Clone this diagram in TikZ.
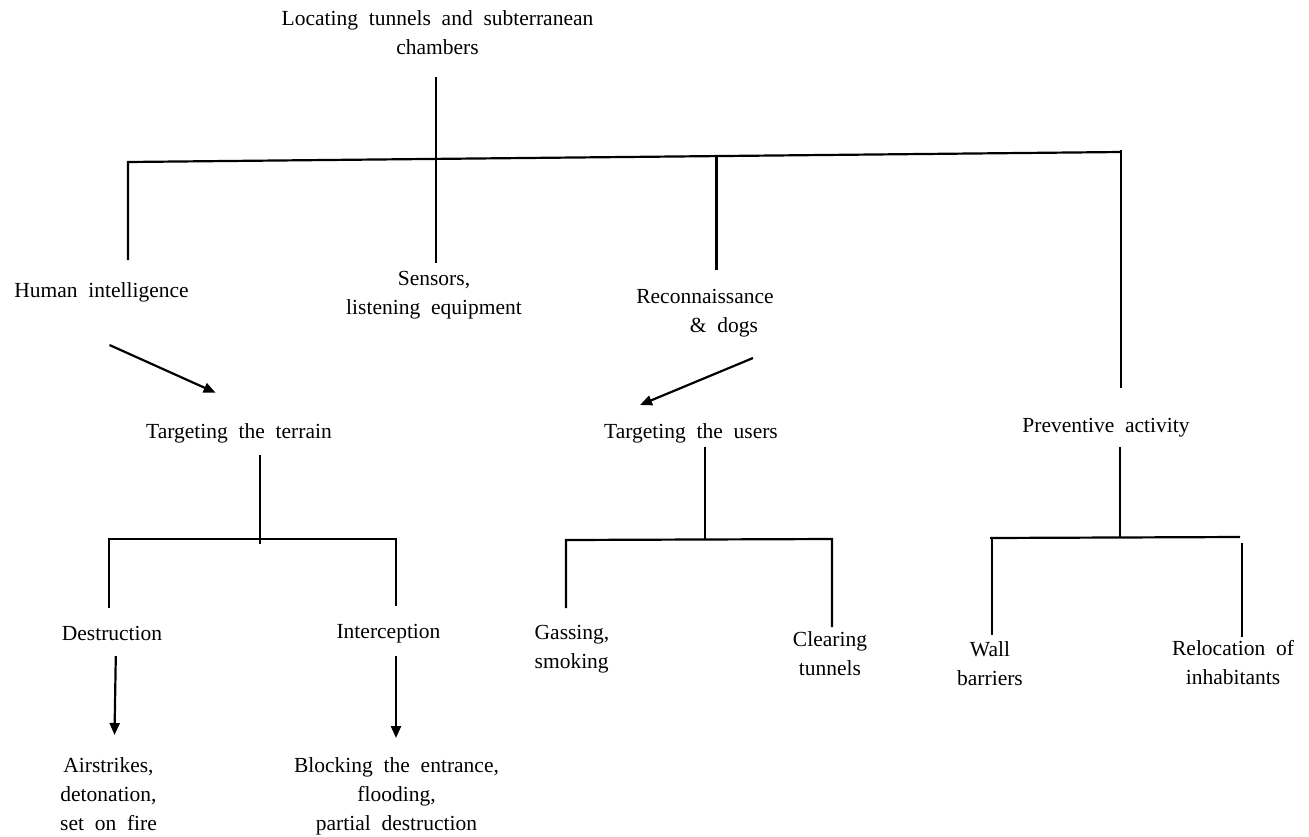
\documentclass[tikz,border=0pt]{standalone}
\usepackage{fontspec}
\setmainfont{Liberation Serif}
\usetikzlibrary{arrows.meta}
\begin{document}
\begin{tikzpicture}[x=1pt,y=-1pt,
  lbl/.style={inner sep=0pt,anchor=base,align=center,
    font={\fontsize{21.5}{29}\selectfont\spaceskip=0.5em plus 0.1em\relax}},
  ln/.style={line width=2.2pt},
  arr/.style={line width=2.2pt,-{Triangle[length=12pt,width=10pt]}}]
\useasboundingbox[fill=white] (0,0) rectangle (1309,836);

% text nodes (anchor base = baseline of the last line)
\node[lbl] (top) at (437.5,54) {Locating tunnels and subterranean\\chambers};
\node[lbl] (hum) at (101.5,297) {Human intelligence};
\node[lbl] (sens) at (434,314) {Sensors,\\listening equipment};
\node[lbl] (rec) at (705,332) {Reconnaissance\\\hspace*{38pt}\& dogs};
\node[lbl] (terr) at (239,438) {Targeting the terrain};
\node[lbl] (users) at (691,438) {Targeting the users};
\node[lbl] (prev) at (1106,432) {Preventive activity};
\node[lbl] (destr) at (112,640) {Destruction};
\node[lbl] (interc) at (388.5,638) {Interception};
\node[lbl,align=left] (gas) at (572,668) {Gassing,\\smoking};
\node[lbl] (clear) at (830,675) {Clearing\\tunnels};
\node[lbl] (wall) at (990,685) {Wall\\barriers};
\node[lbl] (reloc) at (1233,684) {Relocation of\\inhabitants};
\node[lbl] (air) at (108.5,830) {Airstrikes,\\detonation,\\set on fire};
\node[lbl] (block) at (396.5,830) {Blocking the entrance,\\flooding,\\partial destruction};

% coordinates of the tree
\coordinate (topS) at (436,77);
\coordinate (topE) at (436,263);
\coordinate (mL) at (128,162);
\coordinate (mR) at (1121,152);
\coordinate (mRt) at (1121,150);
\coordinate (humT) at (128,260);
\coordinate (recA) at (716.5,157);
\coordinate (recT) at (716.5,270);
\coordinate (prevT) at (1121,388);
\coordinate (humA) at (109.5,345);
\coordinate (terrA) at (215.6,392.7);
\coordinate (recB) at (753,358);
\coordinate (usersA) at (640,405);

\coordinate (tS) at (260,455);
\coordinate (tE) at (260,544);
\coordinate (tL) at (108.6,539);
\coordinate (tR) at (396,539);
\coordinate (tLd) at (108.6,608);
\coordinate (tRd) at (396,606);
\coordinate (dA) at (115.8,656);
\coordinate (dB) at (114.5,735);
\coordinate (iA) at (396,656);
\coordinate (iB) at (396,738);

\coordinate (uS) at (704.7,447);
\coordinate (uE) at (704.7,539);
\coordinate (uL) at (566,540);
\coordinate (uR) at (832,539);
\coordinate (uLd) at (566,608);
\coordinate (uRd) at (832,627);

\coordinate (pS) at (1120.3,447);
\coordinate (pE) at (1120.3,537);
\coordinate (pL) at (990,538);
\coordinate (pR) at (1240,537);
\coordinate (pLa) at (992,538);
\coordinate (pLd) at (992,635);
\coordinate (pRa) at (1241.6,543);
\coordinate (pRd) at (1241.6,637);

% lines
\draw[ln] (topS) -- (topE);
\draw[ln] (humT) -- (mL) -- (mR);
\draw[ln] (mRt) -- (prevT);
\draw[ln] (recA) -- (recT);
\draw[arr] (humA) -- (terrA);
\draw[arr] (recB) -- (usersA);

\draw[ln] (tS) -- (tE);
\draw[ln] (tLd) -- (tL) -- (tR) -- (tRd);
\draw[arr] (dA) -- (dB);
\draw[arr] (iA) -- (iB);

\draw[ln] (uS) -- (uE);
\draw[ln] (uLd) -- (uL) -- (uR) -- (uRd);

\draw[ln] (pS) -- (pE);
\draw[ln] (pL) -- (pR);
\draw[ln] (pLa) -- (pLd);
\draw[ln] (pRa) -- (pRd);
\end{tikzpicture}
\end{document}
